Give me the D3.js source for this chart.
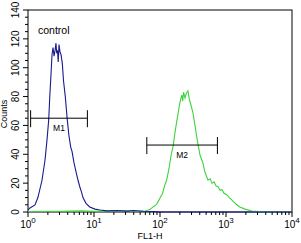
<!DOCTYPE html>
<html>
<head>
<meta charset="utf-8">
<script src="https://cdn.jsdelivr.net/npm/d3@7"></script>
<style>
  body { margin: 0; background: #fff; }
  text { font-family: "Liberation Sans", Arial, sans-serif; fill: #000; }
</style>
</head>
<body>
<svg id="chart"></svg>
<script>
const width = 301;
const height = 243;

// histogram channels, x in decades (log10 of FL1-H)
const blueDecade = [0, 0.03, 0.106, 0.15, 0.212, 0.258, 0.288, 0.314, 0.33, 0.348, 0.364, 0.379, 0.395, 0.41, 0.424, 0.435, 0.447, 0.458, 0.47, 0.485, 0.5, 0.52, 0.538, 0.565, 0.595, 0.62, 0.647, 0.667, 0.697, 0.727, 0.758, 0.788, 0.81, 0.833, 0.879, 0.935, 1.015, 1.09, 1.2, 1.35, 1.5, 1.6, 1.75, 1.9, 2.0, 4.0];
const blueCount  = [1.5, 2.8, 4.9, 10, 22, 36, 50, 64, 80, 95, 109, 114, 108, 112, 117, 110, 112, 104, 116, 111, 109, 103, 91, 80, 64, 53, 45, 42, 34, 28, 22, 17, 14, 10, 6, 3.5, 2, 1.4, 0.8, 1.0, 0.6, 1.0, 0.5, 0.3, 0, 0];

const greenDecade = [0, 0.5, 0.8, 1.0, 1.2, 1.4, 1.6, 1.773, 1.848, 1.894, 1.94, 1.97, 2.0, 2.04, 2.068, 2.1, 2.136, 2.167, 2.2, 2.227, 2.258, 2.277, 2.3, 2.33, 2.345, 2.356, 2.38, 2.4, 2.424, 2.447, 2.47, 2.5, 2.53, 2.553, 2.58, 2.606, 2.65, 2.68, 2.727, 2.76, 2.788, 2.82, 2.85, 2.88, 2.91, 2.94, 2.97, 3.015, 3.05, 3.09, 3.15, 3.21, 3.29, 3.39, 3.5, 3.6, 4.0];
const greenCount  = [0.3, 0.5, 0.8, 0.4, 0.6, 0.9, 0.5, 0.7, 1.7, 3.5, 4.9, 7, 9.7, 13, 18, 22, 30, 39, 46, 55, 64, 69, 75.5, 81, 77, 83, 79, 82.5, 84, 77.6, 74, 68.6, 60, 53, 46, 39.5, 34, 27.7, 22, 23, 20, 21, 18, 17.5, 15, 15.5, 13, 11.8, 10, 8.3, 5.5, 3.5, 2, 0.7, 0.3, 0, 0];

const yTicks = [0, 20, 40, 60, 80, 100, 120, 140];
const xExponents = [0, 1, 2, 3, 4];

// marker gates
const gateNames = ["M1", "M2"];
const gateFrom = [0.04, 1.8];
const gateTo = [0.9, 2.87];
const gateLevel = [65, 46.4];

const margin = { top: 10, right: 9, bottom: 31, left: 28 };
const plotW = width - margin.left - margin.right;
const plotH = height - margin.top - margin.bottom;

const svg = d3.select("#chart")
  .attr("width", width)
  .attr("height", height);

const g = svg.append("g")
  .attr("transform", `translate(${margin.left},${margin.top})`);

const x = d3.scaleLinear().domain([0, 4]).range([0, plotW]);
const y = d3.scaleLinear().domain([0, 140]).range([plotH, 0]);

// frame
g.append("rect")
  .attr("width", plotW)
  .attr("height", plotH)
  .attr("fill", "none")
  .attr("stroke", "#000")
  .attr("stroke-width", 1);

// histograms
const line = d3.line()
  .x(d => x(d[0]))
  .y(d => y(d[1]));

g.append("path")
  .datum(d3.zip(greenDecade, greenCount))
  .attr("d", line)
  .attr("fill", "none")
  .attr("stroke", "#3fd23f")
  .attr("stroke-width", 1.1);

g.append("path")
  .datum(d3.zip(blueDecade, blueCount))
  .attr("d", line)
  .attr("fill", "none")
  .attr("stroke", "#1a1a8e")
  .attr("stroke-width", 1.1);

// y axis ticks (major every 20, minor every 5)
const yMinor = d3.range(0, 141, 5);
g.selectAll("line.ymin")
  .data(yMinor)
  .join("line")
  .attr("x1", d => (d % 20 === 0 ? -5 : -3))
  .attr("x2", 0)
  .attr("y1", d => y(d))
  .attr("y2", d => y(d))
  .attr("stroke", "#000");

g.selectAll("text.ylab")
  .data(yTicks)
  .join("text")
  .attr("class", "ylab")
  .attr("transform", d => `translate(-9,${y(d)}) rotate(-90)`)
  .attr("text-anchor", "middle")
  .attr("font-size", "10px")
  .text(d => d);

g.append("text")
  .attr("transform", `translate(-21,${y(68)}) rotate(-90)`)
  .attr("text-anchor", "middle")
  .attr("font-size", "9px")
  .text("Counts");

// x axis ticks (log decades with minor 2..9)
const xMinor = [];
xExponents.slice(0, -1).forEach(e => {
  d3.range(2, 10).forEach(m => xMinor.push(e + Math.log10(m)));
});
g.selectAll("line.xmin")
  .data(xMinor)
  .join("line")
  .attr("x1", d => x(d))
  .attr("x2", d => x(d))
  .attr("y1", plotH)
  .attr("y2", plotH + 3)
  .attr("stroke", "#000");

g.selectAll("line.xmaj")
  .data(xExponents)
  .join("line")
  .attr("x1", d => x(d))
  .attr("x2", d => x(d))
  .attr("y1", plotH)
  .attr("y2", plotH + 5)
  .attr("stroke", "#000");

const xl = g.selectAll("text.xlab")
  .data(xExponents)
  .join("text")
  .attr("class", "xlab")
  .attr("x", d => x(d))
  .attr("y", plotH + 16)
  .attr("text-anchor", "middle")
  .attr("font-size", "10px");
xl.append("tspan").text("10");
xl.append("tspan")
  .attr("dy", -5)
  .attr("font-size", "8px")
  .text(d => d);

g.append("text")
  .attr("x", x(1.85))
  .attr("y", plotH + 27)
  .attr("text-anchor", "middle")
  .attr("font-size", "9px")
  .text("FL1-H");

// gates
gateNames.forEach((name, i) => {
  const x0 = x(gateFrom[i]);
  const x1 = x(gateTo[i]);
  const yy = y(gateLevel[i]);
  g.append("line")
    .attr("x1", x0).attr("x2", x1)
    .attr("y1", yy).attr("y2", yy)
    .attr("stroke", "#000");
  [x0, x1].forEach(xx => {
    g.append("line")
      .attr("x1", xx).attr("x2", xx)
      .attr("y1", yy - 8).attr("y2", yy + 9)
      .attr("stroke", "#000");
  });
  g.append("text")
    .attr("x", (x0 + x1) / 2)
    .attr("y", yy + 13)
    .attr("text-anchor", "middle")
    .attr("font-size", "8.5px")
    .text(name);
});

g.append("text")
  .attr("x", 10)
  .attr("y", 24)
  .attr("font-size", "10.5px")
  .text("control");
</script>
</body>
</html>
